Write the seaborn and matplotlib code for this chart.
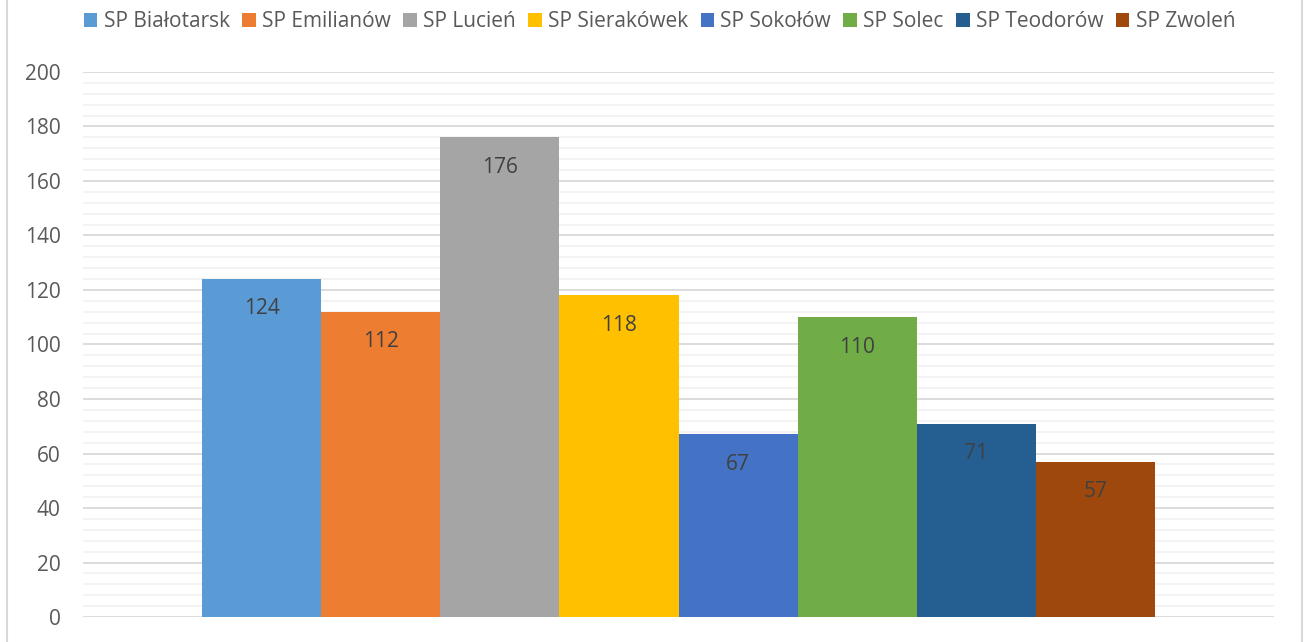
import matplotlib
matplotlib.use("Agg")
import matplotlib.pyplot as plt
import seaborn as sns
import pandas as pd
from matplotlib.patches import Rectangle, Patch

schools = ["SP Białotarsk", "SP Emilianów", "SP Lucień", "SP Sierakówek",
           "SP Sokołów", "SP Solec", "SP Teodorów", "SP Zwoleń"]
values = [124, 112, 176, 118, 67, 110, 71, 57]
colors = ["#5B9BD5", "#ED7D31", "#A5A5A5", "#FFC000", "#4472C4", "#70AD47", "#255E91", "#9E480E"]
yticks = [0, 20, 40, 60, 80, 100, 120, 140, 160, 180, 200]

sns.set_theme(style="white")
plt.rcParams['font.family'] = ['Open Sans', 'DejaVu Sans']

df = pd.DataFrame({"cat": ["a"] * len(schools), "school": schools, "value": values})

fig = plt.figure(figsize=(13.06, 6.42), dpi=100)
ax = fig.add_axes([0.0636, 0.0389, 0.9119, 0.849])
sns.barplot(data=df, x="cat", y="value", hue="school", hue_order=schools,
            palette=colors, width=0.8, saturation=1, ax=ax, legend=False,
            edgecolor="none", linewidth=0, zorder=3)
ax.set_xlim(-0.5, 0.5)
ax.set_ylim(0, 200)
ax.set_yticks(yticks)
ax.set_yticks(range(0, 201, 4), minor=True)
ax.grid(axis="y", which="major", color="#D9D9D9", linewidth=1.3, zorder=0)
ax.grid(axis="y", which="minor", color="#F2F2F2", linewidth=1.3, zorder=0)
ax.set_axisbelow(True)
for s in ax.spines.values():
    s.set_visible(False)
ax.set_xticks([])
ax.set_xlabel("")
ax.set_ylabel("")
ax.tick_params(axis="y", which="both", length=0, pad=16, labelsize=15, labelcolor="#595959")

for cont in ax.containers:
    ax.bar_label(cont, labels=[f"{v:.0f}" for v in cont.datavalues], label_type="edge",
                 padding=-29, fontsize=15, color="#404040")

handles = [Patch(facecolor=c, edgecolor="none") for c in colors]
fig.legend(handles, schools, loc="upper center", bbox_to_anchor=(0.505, 1.012), ncol=8,
           frameon=False, fontsize=15, labelcolor="#595959", handlelength=0.65,
           handleheight=0.65, handletextpad=0.3, columnspacing=0.6)

fig.patches.append(Rectangle((0.005, -0.01), 0.992, 1.05, transform=fig.transFigure,
                             fill=False, edgecolor="#D9D9D9", linewidth=1.5))
fig.savefig("out.png", dpi=100, facecolor="white")
